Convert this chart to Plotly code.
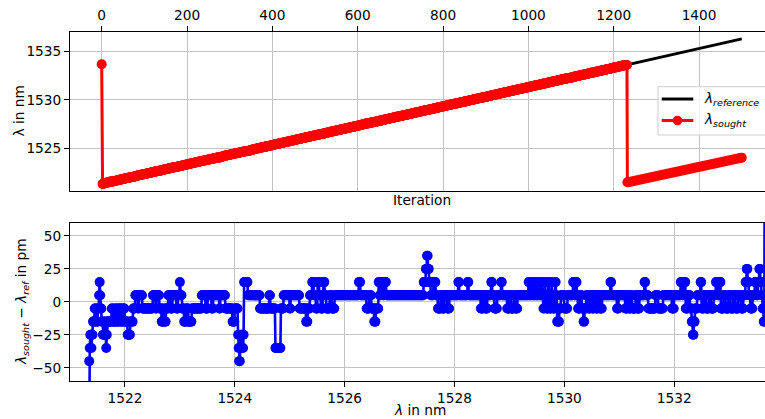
import numpy as np
import plotly.graph_objects as go

# ---------------- data ----------------
# reference sweep (black line), iteration -> wavelength in nm
ref_iter = [0, 1500]
ref_lambda_nm = [1521.33, 1536.33]

# tracked section: first tracked iteration, its reference wavelength, sweep step
track_first_iter = 2
track_first_lambda_nm = 1521.35
sweep_step_nm = 0.01

# initial sought value (iteration 0)
start_iter = [0]
start_sought_nm = [1533.70]

# after the wrap-around
wrap_iter = [1232, 1500]
wrap_sought_nm = [1521.48, 1524.03]

# error record lambda_sought - lambda_ref in pm, as (last index of run, level)
err_runs_a = [(0, -45), (1, -35), (3, -25), (4, -35), (6, -25), (9, -15), (12, -5), (15, -15),
              (17, -5), (18, 5), (19, 15), (20, 5), (22, -5), (24, -15), (27, -25), (29, -15),
              (30, -25), (31, -35), (32, -25), (40, -15), (43, -5), (47, -15), (50, -5), (53, -15),
              (57, -5), (60, -15), (64, -5), (69, -15), (74, -25), (79, -15)]
err_runs_b = [(83, -5), (88, 5), (90, -5), (96, 5), (115, -5), (120, 5), (122, -5), (127, 5),
              (131, -5), (134, -15), (136, -5), (139, -15), (143, -5), (147, 5), (151, -5), (158, 5),
              (161, -5), (164, 5), (165, 15), (168, 5), (172, -5), (176, -15), (180, -5), (186, -15),
              (204, -5), (211, 5), (215, -5), (222, 5), (225, -5), (236, 5), (238, -5), (247, 5),
              (260, -5), (264, -15), (270, -5), (271, -25), (272, -35), (274, -45), (275, -35),
              (276, -25), (277, -35), (279, -25), (280, -35), (281, -25), (288, 15), (310, 5),
              (327, -5), (329, 5), (338, -5), (348, -35), (353, -5), (364, 5), (366, -5), (382, 5),
              (394, -5), (397, -15), (401, -5), (405, 5), (408, 15), (412, 5), (415, -5), (418, 15),
              (421, 5), (425, -5), (428, 15), (431, 5), (437, -5), (441, 5), (446, -5)]
err_runs_c = [(490, 5), (493, 15), (504, 5), (509, -5), (513, 5), (518, -5), (521, -15), (526, -5),
              (528, 15), (531, 5), (534, 15), (537, 5), (540, 15), (608, 5), (612, 15), (614, 25),
              (616, 35), (618, 25), (621, 15), (626, 5), (630, 15), (634, 5), (639, -5), (642, 5),
              (646, -5), (651, 5), (655, -5), (671, 5), (673, 15), (688, 5), (690, 15), (712, 5),
              (716, -5), (720, 5), (724, -5), (731, 5), (733, 15), (737, 5), (742, -5), (749, 5),
              (751, 15), (760, 5), (764, -5), (767, 5), (772, -5), (775, 5), (779, -5), (792, 5)]
err_runs_d = [(799, 5), (800, 15), (805, 5), (806, 15), (811, 5), (812, 15), (817, 5), (818, 15),
              (823, 5), (824, 15), (826, 5), (828, -5), (829, 5), (830, 15), (832, 5), (835, -5),
              (836, 15), (838, 5), (841, -5), (842, 15), (844, 5), (847, -5), (848, 5), (849, 15),
              (851, 5), (855, -15), (858, -5), (864, 5), (870, -5), (880, 5), (882, 15), (885, 5),
              (887, 15), (889, 5), (893, -5), (896, 5), (899, -5), (901, -15), (904, -5), (908, 5),
              (911, -5), (915, 5), (918, -5), (922, 5), (925, -5), (929, 5), (933, -5), (948, 5),
              (950, 15), (960, 5), (963, -5), (975, 5), (979, -5), (982, 5), (985, -5), (988, 5),
              (994, -5), (997, 5), (1001, -5), (1010, 5), (1012, 15), (1017, 5), (1030, -5), (1035, 5)]
err_runs_e = [(1044, -5), (1060, 5), (1064, -5), (1076, 5), (1079, 15), (1081, 5), (1085, 15),
              (1089, -5), (1093, 5), (1096, -5), (1098, -15), (1100, -25), (1102, -15), (1106, -5),
              (1112, 5), (1114, 15), (1118, -5), (1122, 5), (1127, -5), (1131, 5), (1136, -5),
              (1140, 5), (1143, 15), (1146, 5), (1149, 15), (1154, -5), (1158, 5), (1163, -5),
              (1167, 5), (1172, -5), (1176, 5), (1181, -5), (1186, 5), (1190, -5), (1194, 5),
              (1196, 15), (1198, 25), (1200, 15), (1203, 5), (1207, -5), (1211, 5), (1214, 15),
              (1217, 5), (1219, 15), (1221, 25), (1223, 15), (1225, 5), (1227, -5), (1229, -15)]

# off-chart points at both ends of the lower plot
edge_lambda_nm = [1521.345, 1533.648]
edge_err_pm = [-150, 150]

# tick values
top_xticks = [0, 200, 400, 600, 800, 1000, 1200, 1400]
top_yticks = [1525, 1530, 1535]
bot_xticks = [1522, 1524, 1526, 1528, 1530, 1532]
bot_yticks = [-50, -25, 0, 25, 50]

# ---------------- build series ----------------
runs = err_runs_a + err_runs_b + err_runs_c + err_runs_d + err_runs_e
ends = np.array([r[0] for r in runs])
levels = np.array([r[1] for r in runs], dtype=float)
counts = np.diff(np.concatenate([[-1], ends]))
err_pm = np.repeat(levels, counts)
n = len(err_pm)
track_iter = track_first_iter + np.arange(n)
track_ref = track_first_lambda_nm + sweep_step_nm * np.arange(n)
track_sought = track_ref + err_pm / 1000.0

W, H = 765, 419
FONT = "DejaVu Sans"
FS = 13.7


def px(x):
    return x / W


def py(y):
    return 1 - y / H


fig = go.Figure()

# top: reference
fig.add_trace(go.Scatter(x=ref_iter, y=ref_lambda_nm, mode="lines",
                         line=dict(color="black", width=2.8),
                         xaxis="x", yaxis="y", showlegend=False, hoverinfo="skip"))
# top: sought
top_x = list(start_iter) + list(track_iter) + list(wrap_iter)
top_y = list(start_sought_nm) + list(track_sought) + list(wrap_sought_nm)
fig.add_trace(go.Scatter(x=top_x, y=top_y, mode="lines+markers",
                         line=dict(color="#ff0000", width=3),
                         marker=dict(color="#ff0000", size=10),
                         xaxis="x", yaxis="y", showlegend=False, hoverinfo="skip"))
fig.add_trace(go.Scatter(x=wrap_iter, y=wrap_sought_nm, mode="lines",
                         line=dict(color="#ff0000", width=10),
                         xaxis="x", yaxis="y", showlegend=False, hoverinfo="skip"))

# bottom: error
bx = [edge_lambda_nm[0]] + list(track_ref) + [edge_lambda_nm[1]]
by = [edge_err_pm[0]] + list(err_pm) + [edge_err_pm[1]]
fig.add_trace(go.Scatter(x=bx, y=by, mode="lines+markers",
                         line=dict(color="#0000ff", width=2.6),
                         marker=dict(color="#0000ff", size=10),
                         xaxis="x2", yaxis="y2", showlegend=False, hoverinfo="skip",
                         cliponaxis=True))

grid = "#c4c4c4"
axcommon = dict(showline=True, linecolor="black", linewidth=1, ticks="outside",
                ticklen=5, tickwidth=1, tickcolor="black", showgrid=True,
                gridcolor=grid, gridwidth=1, zeroline=False,
                tickfont=dict(family=FONT, size=FS, color="black"))

xdom = [70 / W, 1]
fig.update_layout(
    width=W, height=H,
    margin=dict(l=0, r=0, t=0, b=0),
    paper_bgcolor="white", plot_bgcolor="white",
    xaxis=dict(domain=xdom, anchor="y", side="top", range=[-74.3, 1554.5],
               tickvals=top_xticks, mirror=True, **axcommon),
    yaxis=dict(domain=[py(190.7), py(31.7)], anchor="x", range=[1520.61, 1537.07],
               tickvals=top_yticks, **axcommon),
    xaxis2=dict(domain=xdom, anchor="y2", range=[1521.0, 1533.652],
                tickvals=bot_xticks, mirror=True, **axcommon),
    yaxis2=dict(domain=[py(380.9), py(222.8)], anchor="x2", range=[-60, 60],
                tickvals=bot_yticks, **axcommon),
)

ann = []
def text(x, y, s, angle=0, xanchor="center"):
    ann.append(dict(x=px(x), y=py(y), xref="paper", yref="paper", text=s,
                    showarrow=False, textangle=angle, xanchor=xanchor, yanchor="middle",
                    font=dict(family=FONT, size=FS, color="black")))

text(421.8, 200, "Iteration")
text(420, 409.5, "<i>λ</i> in nm")
text(18, 111.5, "λ in nm", angle=-90)
text(22, 302, "<i>λ</i><sub><i>sought</i></sub> − <i>λ</i><sub><i>ref</i></sub> in pm", angle=-90)

# legend
shapes = []
shapes.append(dict(type="rect", xref="paper", yref="paper", x0=px(658), x1=px(770),
                   y0=py(135), y1=py(86.7), line=dict(color="#d0d0d0", width=1),
                   fillcolor="rgba(255,255,255,0.85)", layer="above"))
shapes.append(dict(type="line", xref="paper", yref="paper", x0=px(661.7), x1=px(693.3),
                   y0=py(99), y1=py(99), line=dict(color="black", width=2.8), layer="above"))
shapes.append(dict(type="line", xref="paper", yref="paper", x0=px(661.7), x1=px(693.3),
                   y0=py(120.5), y1=py(120.5), line=dict(color="#ff0000", width=3), layer="above"))
shapes.append(dict(type="circle", xref="paper", yref="paper", x0=px(677.5 - 4.8), x1=px(677.5 + 4.8),
                   y0=py(120.5 + 4.8), y1=py(120.5 - 4.8), line=dict(width=0),
                   fillcolor="#ff0000", layer="above"))
text(701.7, 99, "<i>λ</i><sub><i>reference</i></sub>", xanchor="left")
text(701.7, 120.5, "<i>λ</i><sub><i>sought</i></sub>", xanchor="left")

fig.update_layout(annotations=ann, shapes=shapes)
fig.write_html("out.html")
